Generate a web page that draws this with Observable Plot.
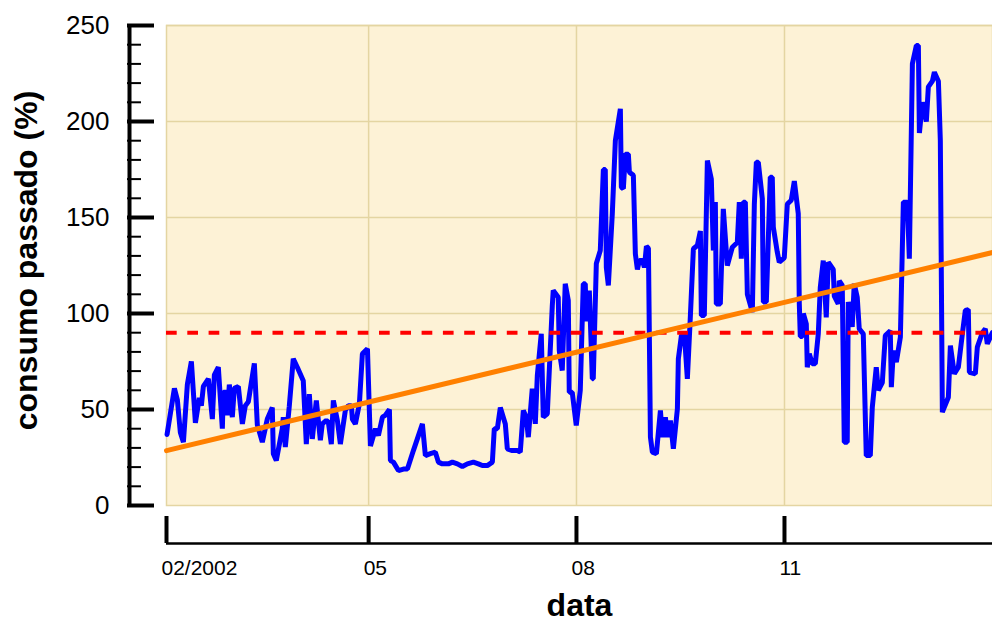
<!DOCTYPE html>
<html>
<head>
<meta charset="utf-8">
<script src="https://cdn.jsdelivr.net/npm/d3@7"></script>
<script src="https://cdn.jsdelivr.net/npm/@observablehq/plot@0.6"></script>
<style>
  html, body { margin: 0; padding: 0; background: #ffffff; }
  #chart { width: 992px; height: 623px; }
</style>
</head>
<body>
<div id="chart"></div>
<script>
// Time (decimal years) and values
const years = [
2002.093,2002.199,2002.242,2002.285,2002.329,2002.386,2002.444,2002.502,2002.559,2002.588,
2002.617,2002.689,2002.747,2002.776,2002.833,2002.891,2002.905,2002.949,2002.963,2002.992,
2003.035,2003.064,2003.122,2003.180,2003.223,2003.266,2003.353,2003.396,2003.468,2003.540,
2003.612,2003.627,2003.670,2003.756,2003.771,2003.800,2003.857,2003.915,2003.973,2004.059,
2004.103,2004.146,2004.189,2004.247,2004.305,2004.333,2004.391,2004.420,2004.463,2004.492,
2004.550,2004.593,2004.665,2004.708,2004.752,2004.766,2004.809,2004.867,2004.910,2004.983,
2005.026,2005.098,2005.141,2005.199,2005.242,2005.300,2005.314,2005.358,2005.430,2005.502,
2005.560,2005.646,2005.776,2005.819,2005.891,2005.963,2006.007,2006.064,2006.151,2006.209,
2006.281,2006.353,2006.425,2006.512,2006.584,2006.641,2006.713,2006.786,2006.814,2006.858,
2006.901,2006.973,2007.002,2007.074,2007.146,2007.189,2007.233,2007.276,2007.305,2007.362,
2007.406,2007.435,2007.492,2007.521,2007.579,2007.651,2007.665,2007.737,2007.752,2007.795,
2007.838,2007.882,2007.896,2007.939,2007.997,2008.055,2008.098,2008.127,2008.141,2008.185,
2008.228,2008.242,2008.286,2008.343,2008.387,2008.415,2008.430,2008.459,2008.516,2008.560,
2008.632,2008.646,2008.675,2008.704,2008.747,2008.762,2008.819,2008.848,2008.877,2008.906,
2008.949,2008.978,2009.007,2009.036,2009.065,2009.093,2009.151,2009.209,2009.238,2009.281,
2009.310,2009.353,2009.396,2009.454,2009.468,2009.512,2009.555,2009.598,2009.642,2009.685,
2009.742,2009.786,2009.800,2009.843,2009.887,2009.944,2009.973,2010.002,2010.016,2010.074,
2010.117,2010.175,2010.247,2010.319,2010.348,2010.377,2010.406,2010.435,2010.464,2010.536,
2010.565,2010.594,2010.622,2010.680,2010.695,2010.738,2010.795,2010.824,2010.839,2010.896,
2010.925,2010.997,2011.041,2011.098,2011.142,2011.199,2011.214,2011.228,2011.257,2011.272,
2011.315,2011.329,2011.358,2011.401,2011.445,2011.488,2011.517,2011.560,2011.603,2011.632,
2011.704,2011.719,2011.776,2011.791,2011.834,2011.863,2011.906,2011.921,2011.978,2012.007,
2012.050,2012.079,2012.137,2012.180,2012.238,2012.267,2012.324,2012.353,2012.411,2012.454,
2012.526,2012.541,2012.570,2012.613,2012.671,2012.714,2012.771,2012.800,2012.844,2012.901,
2012.930,2012.945,2012.988,2013.045,2013.074,2013.132,2013.161,2013.219,2013.247,2013.276,
2013.363,2013.392,2013.449,2013.507,2013.565,2013.608,2013.651,2013.666,2013.752,2013.781,
2013.853,2013.896,2013.925,2013.997
];
const values = [
37,61,55,38,33,63,75,43,56,52,
62,66,45,68,72,40,59,59,47,63,
46,61,62,42.5,52,54,74,42,33,45,
51,27,23.4,40,46,30.4,51.6,76.4,72,65,
32,58,34.7,54.7,34,42.5,44.3,43.4,32,54.7,
44.3,32,49.5,52,52,45,42.5,53,79,81.6,
31,40,36.5,46,47,50,23.4,22.6,18.2,19,
19,28.6,42.5,26,27,27.8,22.6,21.7,21.7,22.6,
21.7,20.3,21.7,22.6,21.7,20.8,20.8,22.6,40,40,
51,42.5,29.5,28.6,28.6,27.8,49.5,46,35.6,60.8,
42.5,67.7,89.4,46,47.7,104,112,108.5,80.7,70.3,
115.5,106.8,59,59,41.7,60,115.5,115.5,96,112,
66,66,126,132.8,175,175,124,114.6,152,190,
206.6,165.8,165,183,183,173.6,172,131,123,127.6,
127.6,124,135,134,35.6,27.8,27,49.5,35.6,46,
35.6,44.3,29.5,50.3,76.4,88.5,89.4,66,99,133.7,
135.4,143,99,99,179.7,170,132.8,158,105,105,
154.5,125,134.5,137,158,128.5,158,158,110,100.7,
157,178.8,178.8,159.7,106,106,171,171,145,132,
126.7,129,157,159,169,152,105,88,88,100,
94.6,72,79,73.8,73.8,89.4,113.7,127.6,98,126.7,
123,109,105,117,114.6,33,33,106,93,115.5,
108.5,92,89.4,26,26,51.2,72,60,64,88.5,
91,61.6,80.7,74.7,87.7,158,158,128.5,230,239.6,
239.6,194,210,200,218,221,225.7,221,190,48.6,
56.4,83.3,68.6,72,89.4,101.6,102,69.4,68.6,82.5,
90,92,84.2,90
];
// Linear trend (orange) endpoints
const trendYears = [2002.085, 2014.0];
const trendValues = [28.6, 131.8];
// Reference level (red dashed)
const threshold = 90;

// Axis ticks
const xDomainDates = ["2002-02-01", "2014-01-01"];
const xTickDates = ["2002-02-01", "2005-01-01", "2008-01-01", "2011-01-01"];
const xTickLabels = ["02/2002", "05", "08", "11"];
const xGridDates = ["2005-01-01", "2008-01-01", "2011-01-01"];
const yTicks = [0, 50, 100, 150, 200, 250];
const yMinorTicks = [0,10,20,30,40,50,60,70,80,90,100,110,120,130,140,150,160,170,180,190,200,210,220,230,240,250];
const yGridTicks = [50, 100, 150, 200, 250];
const xTitle = "data";
const yTitle = "consumo passado (%)";

function decToDate(y) {
  const yr = Math.floor(y);
  const s = Date.UTC(yr, 0, 1), e = Date.UTC(yr + 1, 0, 1);
  return new Date(s + (y - yr) * (e - s));
}
const series = years.map((y, i) => ({date: decToDate(y), value: values[i]}));
const trend = trendYears.map((y, i) => ({date: decToDate(y), value: trendValues[i]}));
const xDomain = xDomainDates.map(d => new Date(d));
const xTicks = xTickDates.map(d => new Date(d));
const xGrid = xGridDates.map(d => new Date(d));
const labelByTime = new Map(xTicks.map((d, i) => [+d, xTickLabels[i]]));

const bg = "#fdf2d6";
const gridColor = "#e4d5a2";

const chart = Plot.plot({
  width: 992,
  height: 623,
  marginLeft: 166,
  marginRight: 0,
  marginTop: 25,
  marginBottom: 118,
  x: {type: "utc", domain: xDomain, axis: null},
  y: {domain: [0, 250], axis: null},
  style: {fontFamily: "'Liberation Sans', Arial, sans-serif", background: "#ffffff", color: "#000", overflow: "visible"},
  marks: [
    Plot.frame({fill: bg, stroke: gridColor, strokeWidth: 1.5}),
    Plot.gridY(yGridTicks, {stroke: gridColor, strokeOpacity: 1, strokeWidth: 1.5}),
    Plot.gridX(xGrid, {stroke: gridColor, strokeOpacity: 1, strokeWidth: 1.5}),
    Plot.line(series, {x: "date", y: "value", stroke: "#0000ff", strokeWidth: 5, strokeLinejoin: "miter"}),
    Plot.ruleY([threshold], {stroke: "#ff0000", strokeWidth: 4, strokeDasharray: "10.7,10.6"}),
    Plot.line(trend, {x: "date", y: "value", stroke: "#ff8000", strokeWidth: 5}),
    // y axis
    Plot.axisY(yMinorTicks, {anchor: "left", tickSize: 14, dx: -25, strokeWidth: 2, tickFormat: () => "", label: null}),
    Plot.axisY(yTicks, {anchor: "left", tickSize: 27, dx: -12, strokeWidth: 4, tickPadding: 18, fontSize: 26, label: null}),
    Plot.ruleX([xDomain[0]], {y1: 0, y2: 250, dx: -37, strokeWidth: 4}),
    // x axis
    Plot.ruleY([0], {dy: 38, strokeWidth: 2.5}),
    Plot.axisX(xTicks, {anchor: "bottom", tickSize: 27, dy: 11, strokeWidth: 4, tickFormat: () => "", label: null}),
    Plot.axisX(xTicks, {anchor: "bottom", tickSize: 0, tickPadding: 55, dx: -5, textAnchor: "start", fontSize: 21, tickFormat: d => labelByTime.get(+d), label: null}),
    // titles
    Plot.text([xTitle], {frameAnchor: "bottom", dy: 110, fontSize: 32, fontWeight: "bold", text: d => d}),
    Plot.text([yTitle], {frameAnchor: "left", textAnchor: "middle", dx: -140, dy: -5, rotate: -90, fontSize: 32, fontWeight: "bold", text: d => d})
  ]
});
document.getElementById("chart").appendChild(chart);
</script>
</body>
</html>
